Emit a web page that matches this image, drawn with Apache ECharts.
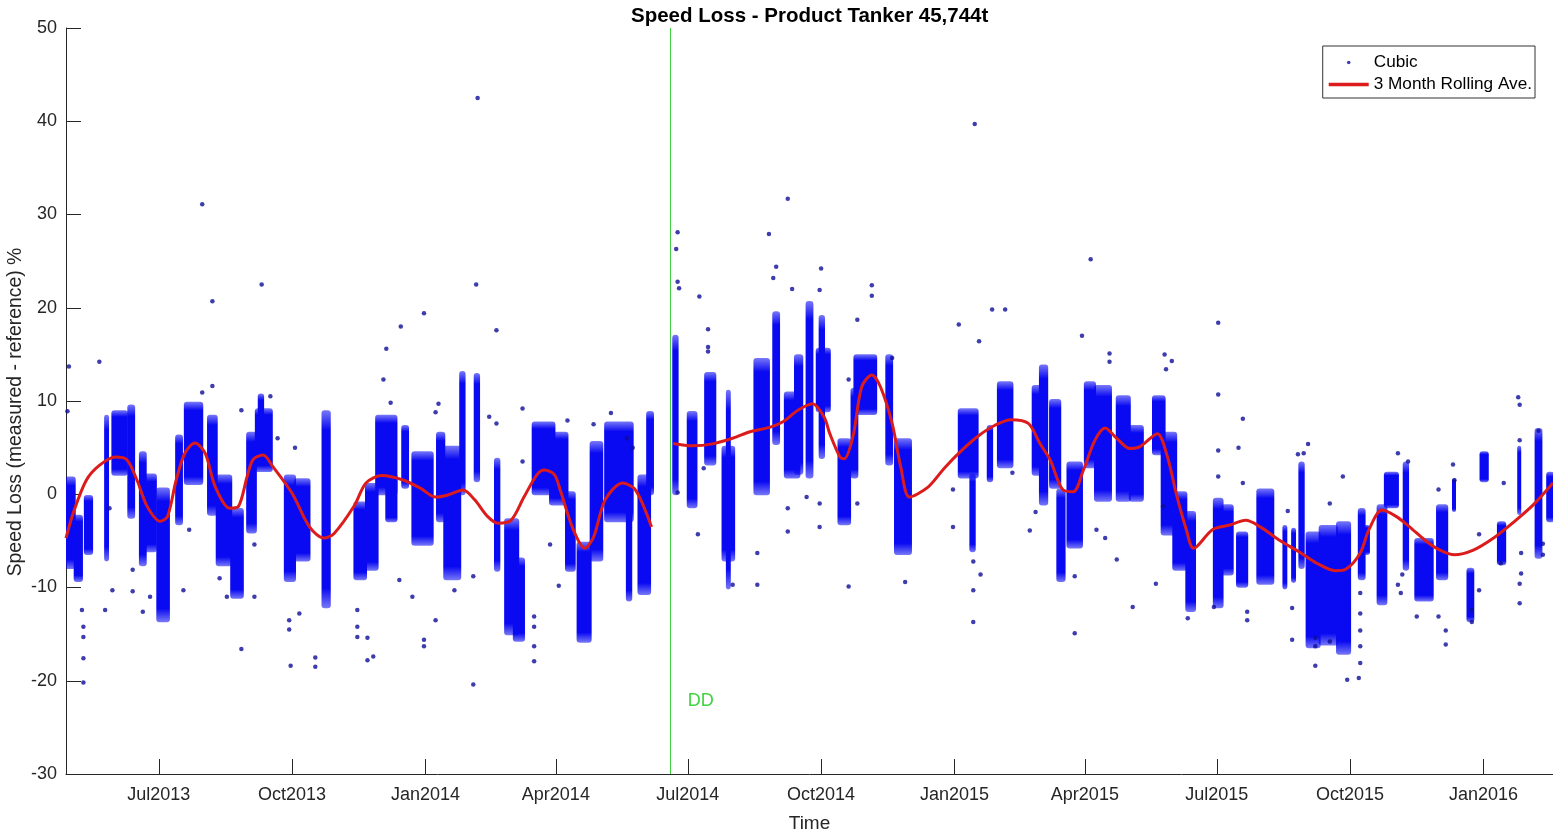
<!DOCTYPE html>
<html>
<head>
<meta charset="utf-8">
<title>Speed Loss - Product Tanker 45,744t</title>
<script src="https://cdn.jsdelivr.net/npm/echarts@6/dist/echarts.min.js"></script>
<style>
  html, body { margin: 0; padding: 0; background: #fff; }
  #chart { width: 1553px; height: 833px; }
</style>
</head>
<body>
<div id="chart"></div>
<script>
const FONT = '"Liberation Sans", Arial, Helvetica, sans-serif';
const MONTHS = ['Jan', 'Feb', 'Mar', 'Apr', 'May', 'Jun', 'Jul', 'Aug', 'Sep', 'Oct', 'Nov', 'Dec'];

const xStart = '2013-04-28';
const xEnd = '2016-02-18';
const ddDate = '2014-06-19';
const ddLabelAt = ['2014-07-10', -22.2];

// 3 month rolling average (gap at the dry dock)
const rollingAve = [
  ['2013-04-28', -4.7], ['2013-05-03', -2.0], ['2013-05-12', 1.5], ['2013-05-21', 3.1],
  ['2013-06-01', 4.0], ['2013-06-09', 3.7], ['2013-06-16', 1.5], ['2013-06-23', -1.3],
  ['2013-07-02', -2.9], ['2013-07-07', -2.4], ['2013-07-13', 1.5], ['2013-07-19', 4.4],
  ['2013-07-26', 5.5], ['2013-08-02', 4.4], ['2013-08-09', 0.8], ['2013-08-19', -1.5],
  ['2013-08-25', -1.3], ['2013-08-31', 1.9], ['2013-09-04', 3.7], ['2013-09-11', 4.2],
  ['2013-09-18', 2.9], ['2013-10-01', 0.1], ['2013-10-13', -3.5], ['2013-10-23', -4.7],
  ['2013-10-30', -4.2], ['2013-11-13', -1.2], ['2013-11-21', 1.2], ['2013-12-02', 2.0],
  ['2013-12-17', 1.5], ['2013-12-29', 0.6], ['2014-01-08', -0.3], ['2014-01-16', -0.1],
  ['2014-01-27', 0.45], ['2014-02-04', -0.6], ['2014-02-13', -2.4], ['2014-02-20', -3.1],
  ['2014-03-01', -2.8], ['2014-03-10', -0.3], ['2014-03-19', 2.1], ['2014-03-24', 2.6],
  ['2014-03-31', 2.1], ['2014-04-04', 0.45], ['2014-04-13', -3.8], ['2014-04-21', -5.8],
  ['2014-04-27', -4.6], ['2014-05-05', -0.6], ['2014-05-17', 1.2], ['2014-05-26', 0.45],
  ['2014-06-06', -3.5],
  ['2014-06-13', '-'],
  ['2014-06-21', 5.45], ['2014-07-04', 5.2], ['2014-07-18', 5.4], ['2014-08-01', 6.0],
  ['2014-08-13', 6.7], ['2014-08-27', 7.2], ['2014-09-05', 7.8], ['2014-09-15', 9.0],
  ['2014-09-25', 9.7], ['2014-10-03', 8.3], ['2014-10-07', 6.5], ['2014-10-14', 4.0],
  ['2014-10-17', 3.8], ['2014-10-23', 6.2], ['2014-10-29', 11.5], ['2014-11-05', 12.8],
  ['2014-11-11', 11.5], ['2014-11-19', 7.6], ['2014-11-25', 2.9], ['2014-12-01', -0.3],
  ['2014-12-14', 0.8], ['2014-12-25', 2.8], ['2015-01-06', 4.7], ['2015-01-17', 6.2],
  ['2015-01-29', 7.4], ['2015-02-09', 8.0], ['2015-02-21', 7.6], ['2015-03-01', 5.45],
  ['2015-03-08', 3.7], ['2015-03-17', 0.45], ['2015-03-24', 0.27], ['2015-03-31', 2.6],
  ['2015-04-08', 5.8], ['2015-04-15', 7.1], ['2015-04-23', 6.0], ['2015-05-02', 4.9],
  ['2015-05-09', 5.1], ['2015-05-21', 6.5], ['2015-05-28', 4.0], ['2015-06-03', 0.1],
  ['2015-06-10', -3.8], ['2015-06-15', -5.8], ['2015-06-28', -3.8], ['2015-07-10', -3.3],
  ['2015-07-21', -2.8], ['2015-07-31', -3.5], ['2015-08-13', -4.9], ['2015-08-27', -6.2],
  ['2015-09-08', -7.4], ['2015-09-21', -8.2], ['2015-09-28', -8.05], ['2015-10-08', -6.3],
  ['2015-10-14', -3.8], ['2015-10-23', -1.7], ['2015-11-02', -2.4], ['2015-11-11', -3.5],
  ['2015-11-23', -5.1], ['2015-12-02', -6.0], ['2015-12-12', -6.5], ['2015-12-25', -6.0],
  ['2016-01-08', -4.7], ['2016-01-21', -3.1], ['2016-02-04', -1.2], ['2016-02-18', 1.2]
];

// dense runs of Cubic points: [from, to, low, high]
const clusters = [
  ['2013-04-28', '2013-05-04', -7.8, 1.7], ['2013-05-04', '2013-05-09', -9.2, -2.4],
  ['2013-05-11', '2013-05-16', -6.3, -0.3], ['2013-05-25', '2013-05-27', -7.0, 8.3],
  ['2013-05-30', '2013-06-09', 2.2, 8.8], ['2013-06-10', '2013-06-14', -2.4, 9.4],
  ['2013-06-18', '2013-06-22', -7.5, 4.4], ['2013-06-22', '2013-06-29', -6.0, 2.0],
  ['2013-06-30', '2013-07-08', -13.5, 0.5], ['2013-07-13', '2013-07-17', -3.1, 6.2],
  ['2013-07-19', '2013-07-31', 1.2, 9.7], ['2013-08-04', '2013-08-10', -2.1, 8.3],
  ['2013-08-10', '2013-08-20', -7.5, 1.9], ['2013-08-20', '2013-08-28', -11.0, -1.7],
  ['2013-08-31', '2013-09-06', -4.0, 6.5], ['2013-09-06', '2013-09-17', 2.6, 9.0],
  ['2013-09-08', '2013-09-11', 4.0, 10.6], ['2013-09-26', '2013-10-03', -9.2, 1.9],
  ['2013-10-03', '2013-10-13', -7.0, 1.5], ['2013-10-22', '2013-10-27', -12.0, 8.8],
  ['2013-11-13', '2013-11-21', -9.0, -1.0], ['2013-11-21', '2013-11-29', -8.0, 1.0],
  ['2013-11-28', '2013-12-12', 0.1, 8.3], ['2013-12-05', '2013-12-12', -2.8, 2.0],
  ['2013-12-16', '2013-12-20', 0.8, 7.2], ['2013-12-23', '2014-01-06', -5.3, 4.4],
  ['2014-01-09', '2014-01-14', -2.8, 6.5], ['2014-01-14', '2014-01-25', -9.0, 5.0],
  ['2014-01-25', '2014-01-28', 0.1, 13.0], ['2014-02-04', '2014-02-07', 1.5, 12.8],
  ['2014-02-18', '2014-02-21', -8.1, 3.7], ['2014-02-25', '2014-03-06', -14.9, -2.8],
  ['2014-03-03', '2014-03-10', -15.6, -7.0], ['2014-03-16', '2014-03-31', 0.1, 7.6],
  ['2014-03-28', '2014-04-09', -1.0, 6.5], ['2014-04-08', '2014-04-14', -8.1, 0.1],
  ['2014-04-16', '2014-04-25', -15.7, -5.3], ['2014-04-25', '2014-05-03', -7.0, 5.5],
  ['2014-05-05', '2014-05-24', -2.8, 7.6], ['2014-05-20', '2014-05-23', -11.3, 0.1],
  ['2014-05-28', '2014-06-05', -10.6, 1.9], ['2014-06-03', '2014-06-07', 0.1, 8.7],
  ['2014-06-21', '2014-06-24', 0.1, 16.9], ['2014-07-01', '2014-07-07', -1.3, 8.7],
  ['2014-07-13', '2014-07-20', 3.3, 12.9], ['2014-07-25', '2014-08-02', -7.0, 5.0],
  ['2014-07-28', '2014-07-30', -10.0, 11.0], ['2014-08-16', '2014-08-26', 0.1, 14.4],
  ['2014-08-29', '2014-09-02', 5.5, 19.4], ['2014-09-06', '2014-09-16', 1.9, 10.8],
  ['2014-09-13', '2014-09-18', 2.3, 14.8], ['2014-09-21', '2014-09-25', 1.9, 20.5],
  ['2014-09-28', '2014-10-07', 9.0, 15.5], ['2014-09-30', '2014-10-03', 4.0, 19.0],
  ['2014-10-13', '2014-10-21', -3.1, 5.8], ['2014-10-22', '2014-10-26', 1.9, 11.2],
  ['2014-10-24', '2014-11-08', 8.7, 14.8], ['2014-11-15', '2014-11-19', 3.3, 14.8],
  ['2014-11-21', '2014-12-02', -6.3, 5.8], ['2015-01-04', '2015-01-17', 1.9, 9.0],
  ['2015-01-12', '2015-01-15', -6.0, 2.0], ['2015-01-24', '2015-01-27', 1.5, 7.2],
  ['2015-01-31', '2015-02-10', 3.0, 11.9], ['2015-02-24', '2015-03-04', 2.2, 11.5],
  ['2015-03-01', '2015-03-06', -1.0, 13.7], ['2015-03-08', '2015-03-15', 0.8, 10.0],
  ['2015-03-13', '2015-03-18', -9.2, 0.4], ['2015-03-20', '2015-03-30', -5.6, 3.3],
  ['2015-04-01', '2015-04-08', 3.0, 11.9], ['2015-04-08', '2015-04-19', -0.6, 11.5],
  ['2015-04-23', '2015-05-02', -0.6, 10.4], ['2015-05-02', '2015-05-11', -0.6, 7.2],
  ['2015-05-18', '2015-05-26', 4.4, 10.4], ['2015-05-24', '2015-06-03', -4.2, 6.5],
  ['2015-06-01', '2015-06-10', -8.0, 0.1], ['2015-06-10', '2015-06-16', -12.4, -2.0],
  ['2015-06-29', '2015-07-05', -12.0, -0.6], ['2015-07-05', '2015-07-12', -8.5, -1.3],
  ['2015-07-15', '2015-07-22', -9.8, -4.2], ['2015-07-29', '2015-08-09', -9.5, 0.4],
  ['2015-08-16', '2015-08-18', -10.0, -3.5], ['2015-08-22', '2015-08-24', -9.3, -3.8],
  ['2015-08-27', '2015-08-30', -7.8, 3.3], ['2015-09-01', '2015-09-10', -16.3, -4.2],
  ['2015-09-10', '2015-09-22', -16.0, -3.5], ['2015-09-22', '2015-10-01', -17.0, -3.1],
  ['2015-10-07', '2015-10-11', -9.0, -1.7], ['2015-10-11', '2015-10-14', -6.3, -3.5],
  ['2015-10-20', '2015-10-26', -11.7, -1.3], ['2015-10-25', '2015-11-03', -1.3, 2.2],
  ['2015-11-07', '2015-11-10', -8.0, 3.3], ['2015-11-15', '2015-11-27', -11.3, -4.9],
  ['2015-11-30', '2015-12-07', -9.0, -1.3], ['2015-12-11', '2015-12-12', -1.7, 1.5],
  ['2015-12-21', '2015-12-25', -13.5, -8.1], ['2015-12-30', '2016-01-04', 1.5, 4.4],
  ['2016-01-11', '2016-01-16', -7.4, -3.1], ['2016-01-25', '2016-01-26', -2.0, 5.0],
  ['2016-02-06', '2016-02-10', -6.7, 6.9], ['2016-02-14', '2016-02-18', -2.8, 2.2]
];

// single Cubic points outside the dense runs
const dots = [
  ['2013-04-29', 8.9], ['2013-04-30', 13.7], ['2013-05-10', -20.2], ['2013-05-10', -17.6],
  ['2013-05-10', -15.3], ['2013-05-10', -14.2], ['2013-05-09', -12.4], ['2013-05-21', 14.2],
  ['2013-05-25', -12.4], ['2013-05-28', -1.5], ['2013-05-30', -10.3], ['2013-06-13', -10.4],
  ['2013-06-13', -8.1], ['2013-06-20', -12.6], ['2013-06-25', -11.0], ['2013-07-18', -10.3],
  ['2013-07-22', -3.8], ['2013-07-31', 10.9], ['2013-07-31', 31.1], ['2013-08-07', 11.6],
  ['2013-08-07', 20.7], ['2013-08-12', -9.0], ['2013-08-17', -11.0], ['2013-08-27', -16.6],
  ['2013-08-27', 9.0], ['2013-09-05', -11.0], ['2013-09-05', -5.4], ['2013-09-10', 22.5],
  ['2013-09-16', 10.5], ['2013-09-21', 6.0], ['2013-09-29', -13.5], ['2013-09-29', -14.5],
  ['2013-09-30', -18.4], ['2013-10-03', 5.0], ['2013-10-06', -12.8], ['2013-10-17', -17.5],
  ['2013-10-17', -18.5], ['2013-11-15', -12.4], ['2013-11-15', -14.2], ['2013-11-15', -15.3],
  ['2013-11-22', -17.8], ['2013-11-22', -15.4], ['2013-11-26', -17.4], ['2013-12-03', 12.3],
  ['2013-12-05', 15.6], ['2013-12-08', 9.8], ['2013-12-14', -9.2], ['2013-12-15', 18.0],
  ['2013-12-23', -11.0], ['2013-12-31', 19.4], ['2013-12-31', -16.3], ['2013-12-31', -15.6],
  ['2014-01-08', -13.5], ['2014-01-08', 8.8], ['2014-01-10', 9.7], ['2014-01-21', -10.3],
  ['2014-02-03', -20.4], ['2014-02-03', -8.8], ['2014-02-05', 22.5], ['2014-02-06', 42.5],
  ['2014-02-14', 8.3], ['2014-02-19', 17.6], ['2014-02-19', 7.6], ['2014-03-09', 9.2],
  ['2014-03-09', 3.5], ['2014-03-17', -17.9], ['2014-03-17', -16.3], ['2014-03-17', -14.2],
  ['2014-03-17', -13.1], ['2014-03-28', -5.4], ['2014-04-03', -9.8], ['2014-04-09', 7.9],
  ['2014-04-27', 7.5], ['2014-05-09', 8.7], ['2014-05-20', 6.0], ['2014-05-24', 5.0],
  ['2014-06-23', 26.3], ['2014-06-24', 28.1], ['2014-06-24', 22.8], ['2014-06-25', 22.1],
  ['2014-06-24', 0.2], ['2014-07-08', -4.3], ['2014-07-09', 21.2], ['2014-07-12', 2.8],
  ['2014-07-15', 17.7], ['2014-07-15', 15.8], ['2014-07-15', 15.3], ['2014-08-01', -9.7],
  ['2014-08-18', -9.7], ['2014-08-18', -6.3], ['2014-08-26', 27.9], ['2014-08-29', 23.2],
  ['2014-08-31', 24.4], ['2014-09-08', -1.5], ['2014-09-08', -4.0], ['2014-09-08', 31.7],
  ['2014-09-11', 22.0], ['2014-09-21', -0.3], ['2014-09-30', 21.9], ['2014-10-01', 24.2],
  ['2014-09-30', -1.0], ['2014-09-30', -3.5], ['2014-10-20', 12.3], ['2014-10-20', -9.9],
  ['2014-10-26', 18.7], ['2014-10-26', -1.0], ['2014-11-05', 22.4], ['2014-11-05', 21.3],
  ['2014-11-19', 14.6], ['2014-11-28', -9.4], ['2014-12-31', 0.5], ['2014-12-31', -3.5],
  ['2015-01-04', 18.2], ['2015-01-14', -7.2], ['2015-01-14', -10.3], ['2015-01-14', -13.7],
  ['2015-01-15', 39.7], ['2015-01-18', 16.4], ['2015-01-19', -8.6], ['2015-01-27', 19.8],
  ['2015-02-05', 19.8], ['2015-02-10', 2.3], ['2015-02-22', -3.9], ['2015-02-26', -1.9],
  ['2015-03-25', -14.9], ['2015-03-25', -8.8], ['2015-03-30', 17.0], ['2015-04-05', 25.2],
  ['2015-04-09', -3.8], ['2015-04-15', -4.7], ['2015-04-18', 15.1], ['2015-04-18', 14.2],
  ['2015-04-23', -7.0], ['2015-05-04', -12.1], ['2015-05-20', -9.6], ['2015-05-25', -1.3],
  ['2015-05-26', 15.0], ['2015-05-27', 13.4], ['2015-05-31', 14.3], ['2015-06-11', -13.3],
  ['2015-06-29', -12.1], ['2015-07-02', 18.4], ['2015-07-02', 10.7], ['2015-07-02', 4.7],
  ['2015-07-02', 1.9], ['2015-07-16', 5.0], ['2015-07-19', 8.1], ['2015-07-19', 1.2],
  ['2015-07-22', -12.6], ['2015-07-22', -13.5], ['2015-08-19', -1.8], ['2015-08-22', -15.6],
  ['2015-08-22', -12.2], ['2015-08-26', 4.3], ['2015-08-30', 4.4], ['2015-09-02', 5.4],
  ['2015-09-07', -18.4], ['2015-09-07', -15.4], ['2015-09-07', -16.3], ['2015-09-17', -1.0],
  ['2015-09-17', -15.8], ['2015-09-26', 1.9], ['2015-09-29', -19.9], ['2015-10-07', -19.7],
  ['2015-10-08', -18.1], ['2015-10-08', -16.3], ['2015-10-08', -14.6], ['2015-10-08', -12.8],
  ['2015-10-08', -10.6], ['2015-11-03', 4.4], ['2015-11-03', -9.7], ['2015-11-05', -10.6],
  ['2015-11-06', -8.6], ['2015-11-10', 3.5], ['2015-11-16', -13.1], ['2015-12-01', -13.1],
  ['2015-12-01', 0.5], ['2015-12-06', -16.1], ['2015-12-06', -14.6], ['2015-12-11', 3.2],
  ['2015-12-12', 1.5], ['2015-12-24', -13.7], ['2015-12-24', -12.4], ['2015-12-29', -10.3],
  ['2015-12-29', -4.3], ['2016-01-13', -7.4], ['2016-01-15', 1.2], ['2016-01-25', 10.4],
  ['2016-01-26', 9.6], ['2016-01-26', 5.8], ['2016-01-26', -11.7], ['2016-01-26', -9.6],
  ['2016-01-27', -8.5], ['2016-01-27', -6.3], ['2016-02-08', 6.8], ['2016-02-11', -6.5],
  ['2016-02-11', -5.3]
];

const BLUE = '#0a0af2';
const DOT = '#0c0c9a';
const RED = '#dc1c1c';
const GREEN = '#3fd33f';
const INK = '#262626';
const DAY = 24 * 3600 * 1000;

// a dense run is drawn as a rounded column spanning its dates and values,
// thinning out towards both ends like the sparse tips of each run
function renderCluster(params, api) {
  const top = api.coord([api.value(0), api.value(3)]);
  const bottom = api.coord([api.value(1), api.value(2)]);
  const width = Math.max(bottom[0] - top[0], 2) + 2;
  return {
    type: 'rect',
    shape: {
      x: top[0] - 1, y: top[1] - 2, width: width,
      height: bottom[1] - top[1] + 4, r: Math.min(width / 2, 3)
    },
    style: {
      fill: new echarts.graphic.LinearGradient(0, 0, 0, 1, [
        { offset: 0, color: 'rgba(10,10,242,0.55)' },
        { offset: 0.1, color: BLUE },
        { offset: 0.9, color: BLUE },
        { offset: 1, color: 'rgba(10,10,242,0.55)' }
      ])
    }
  };
}

const chart = echarts.init(document.getElementById('chart'));
chart.setOption({
  animation: false,
  backgroundColor: '#fff',
  title: {
    text: 'Speed Loss - Product Tanker 45,744t',
    left: 626,
    top: 1,
    textStyle: { fontFamily: FONT, fontSize: 20.5, fontWeight: 'bold', color: '#000' }
  },
  legend: {
    data: [{ name: 'Cubic', icon: 'circle' }, { name: '3 Month Rolling Ave.', icon: 'rect' }],
    orient: 'vertical',
    right: 18,
    top: 46,
    itemWidth: 40,
    itemHeight: 3.5,
    itemGap: 5,
    padding: [8, 3, 5, 6],
    borderColor: '#333',
    borderWidth: 1,
    backgroundColor: '#fff',
    textStyle: { fontFamily: FONT, fontSize: 17.2, color: '#000' }
  },
  grid: { left: 66, right: 0, top: 28, bottom: 59, containLabel: false, outerBoundsMode: 'none' },
  xAxis: {
    type: 'time',
    min: xStart,
    max: xEnd,
    minInterval: 90 * DAY,
    maxInterval: 92 * DAY,
    name: 'Time',
    nameLocation: 'middle',
    nameGap: 40,
    nameMoveOverlap: false,
    nameTextStyle: { fontFamily: FONT, fontSize: 19, color: INK },
    axisLine: { onZero: false, lineStyle: { color: INK, width: 1 } },
    axisTick: { inside: true, length: 15, lineStyle: { color: INK } },
    axisLabel: {
      fontFamily: FONT, fontSize: 18, color: INK, margin: 12,
      showMinLabel: false, showMaxLabel: false,
      formatter: (value) => {
        const d = new Date(value);
        return d.getDate() === 1 && d.getMonth() % 3 === 0 ? MONTHS[d.getMonth()] + d.getFullYear() : '';
      }
    },
    splitLine: { show: false }
  },
  yAxis: {
    type: 'value',
    min: -30,
    max: 50,
    interval: 10,
    name: 'Speed Loss (measured - reference) %',
    nameLocation: 'middle',
    nameGap: 41,
    nameMoveOverlap: false,
    nameTextStyle: { fontFamily: FONT, fontSize: 19.4, color: INK, padding: [0, 22, 0, 0] },
    axisLine: { show: true, onZero: false, lineStyle: { color: INK, width: 1 } },
    axisTick: { show: true, inside: true, length: 15, lineStyle: { color: INK } },
    axisLabel: { fontFamily: FONT, fontSize: 18, color: INK, margin: 9 },
    splitLine: { show: false }
  },
  series: [
    {
      name: 'Cubic',
      type: 'scatter',
      data: dots,
      symbol: 'circle',
      symbolSize: 4.5,
      itemStyle: { color: DOT },
      z: 2
    },
    {
      name: 'Cubic',
      type: 'custom',
      data: clusters,
      dimensions: [
        { name: 'from', type: 'time' },
        { name: 'to', type: 'time' },
        { name: 'low', type: 'float' },
        { name: 'high', type: 'float' }
      ],
      encode: { x: [0, 1], y: [2, 3] },
      renderItem: renderCluster,
      itemStyle: { color: BLUE },
      clip: true,
      z: 2
    },
    {
      name: '3 Month Rolling Ave.',
      type: 'line',
      data: rollingAve,
      showSymbol: false,
      symbol: 'none',
      smooth: 0.3,
      connectNulls: false,
      lineStyle: { color: RED, width: 3 },
      itemStyle: { color: RED },
      z: 5,
      markLine: {
        silent: true,
        symbol: ['none', 'none'],
        label: { show: false },
        lineStyle: { color: GREEN, width: 1, type: 'solid' },
        data: [{ xAxis: ddDate }]
      },
      markPoint: {
        silent: true,
        symbol: 'rect',
        symbolSize: 1,
        itemStyle: { color: 'rgba(0,0,0,0)' },
        label: { show: true, position: 'inside', formatter: 'DD', color: GREEN, fontFamily: FONT, fontSize: 18 },
        data: [{ coord: ddLabelAt }]
      }
    }
  ]
});
</script>
</body>
</html>
